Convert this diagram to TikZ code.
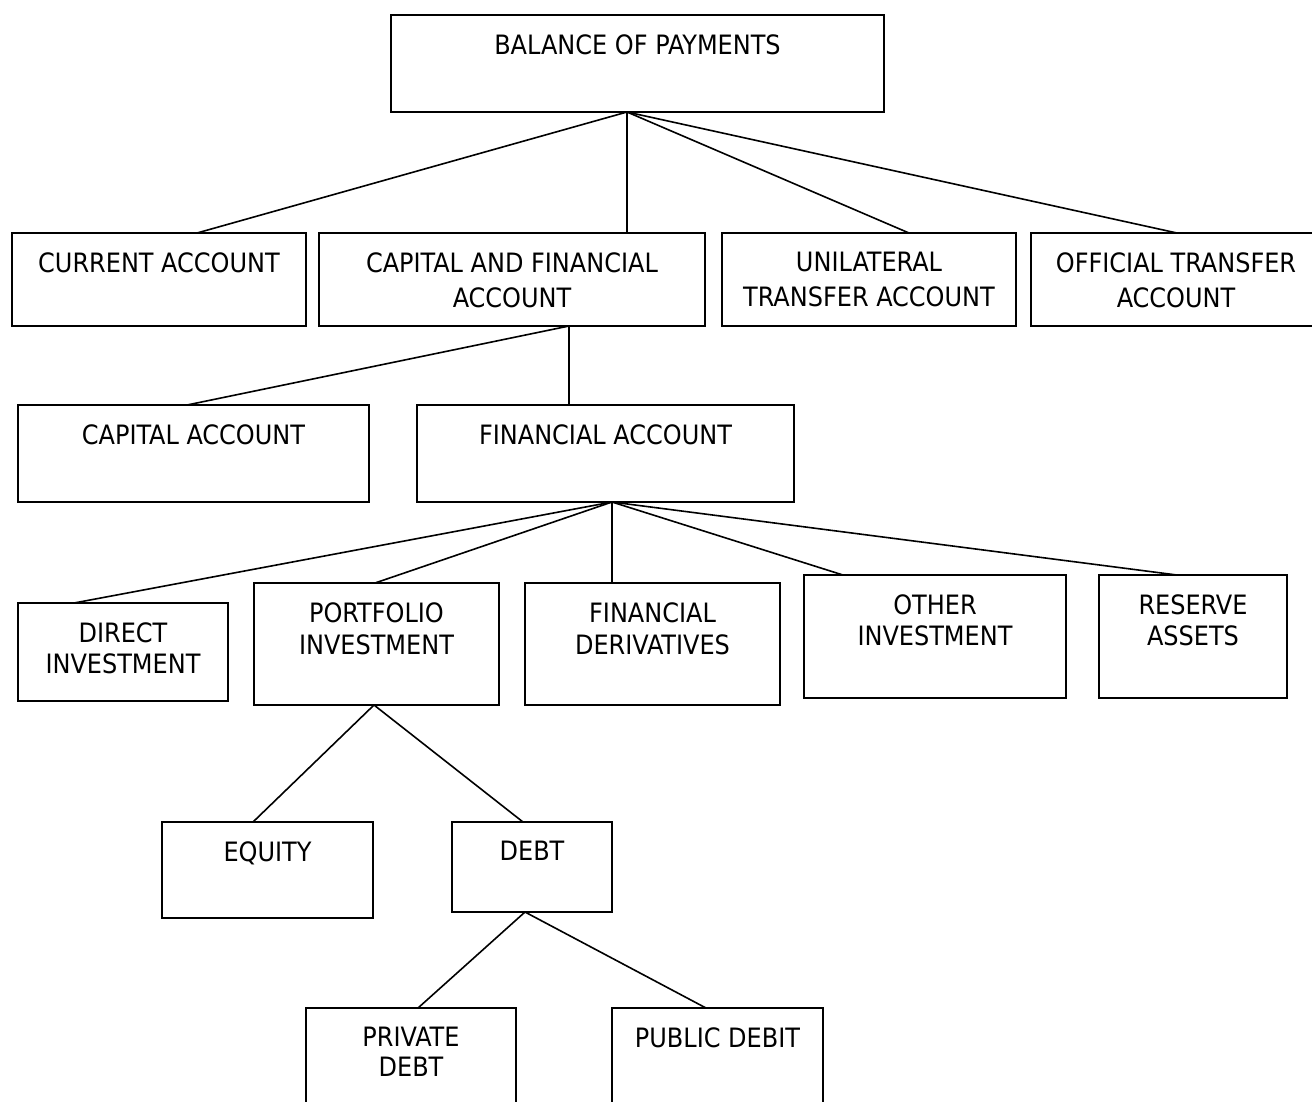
\documentclass[tikz,border=0pt]{standalone}
\usepackage{fontspec}
\setmainfont{DejaVu Sans Condensed}
\usetikzlibrary{calc}
% #1 name, #2 x1, #3 y1, #4 x2, #5 y2, #6 baselineskip (pt), #7 text
\newcommand\bopbox[7]{%
  \node[boxstyle, minimum width={(#4-#2)*0.75pt}, minimum height={(#5-#3)*0.75pt}] (#1) at (#2,#3) {};
  \node[lbl, font=\fontsize{20}{#6}\selectfont] (#1-t) at ($(#1.north west)!0.5!(#1.north east)+(0,19)$) {#7};
}
\begin{document}
\begin{tikzpicture}[x=0.75pt,y=-0.75pt,
  boxstyle/.style={draw=black, line width=1.6pt, inner sep=0pt, outer sep=0pt, anchor=north west},
  lbl/.style={anchor=north, inner sep=0pt, align=center, text=black},
  link/.style={draw=black, line width=1.2pt}]
\clip (0,0) rectangle (1312,1101);
\fill[white] (0,0) rectangle (1312,1101);

\bopbox{bop}{391}{15}{884}{112}{26.25}{BALANCE OF PAYMENTS}
\bopbox{cur}{12}{233}{306}{326}{26.25}{CURRENT ACCOUNT}
\bopbox{capfin}{319}{233}{705}{326}{26.25}{CAPITAL AND FINANCIAL\\ACCOUNT}
\bopbox{uni}{722}{233}{1016}{326}{26.25}{UNILATERAL\\TRANSFER ACCOUNT}
\bopbox{off}{1031}{233}{1321}{326}{26.25}{OFFICIAL TRANSFER\\ACCOUNT}
\bopbox{capacc}{18}{405}{369}{502}{24}{CAPITAL ACCOUNT}
\bopbox{finacc}{417}{405}{794}{502}{24}{FINANCIAL ACCOUNT}
\bopbox{direct}{18}{603}{228}{701}{23.5}{DIRECT\\INVESTMENT}
\bopbox{port}{254}{583}{499}{705}{24}{PORTFOLIO\\INVESTMENT}
\bopbox{finder}{525}{583}{780}{705}{24}{FINANCIAL\\DERIVATIVES}
\bopbox{other}{804}{575}{1066}{698}{23.5}{OTHER\\INVESTMENT}
\bopbox{reserve}{1099}{575}{1287}{698}{23.5}{RESERVE\\ASSETS}
\bopbox{equity}{162}{822}{373}{918}{24}{EQUITY}
\bopbox{debt}{452}{822}{612}{912}{24}{DEBT}
\bopbox{private}{306}{1008}{516}{1120}{22.5}{PRIVATE\\DEBT}
\bopbox{public}{612}{1008}{823}{1120}{22.5}{PUBLIC DEBIT}

% connectors
\draw[link] ($(bop.south west)+(236,0)$) -- ($(cur.north west)+(185,0)$);
\draw[link] ($(bop.south west)+(236,0)$) -- ($(capfin.north west)+(308,0)$);
\draw[link] ($(bop.south west)+(236,0)$) -- ($(uni.north west)+(187,0)$);
\draw[link] ($(bop.south west)+(236,0)$) -- ($(off.north west)+(146,0)$);

\draw[link] ($(capfin.south west)+(250,0)$) -- ($(capacc.north west)+(169,0)$);
\draw[link] ($(capfin.south west)+(250,0)$) -- ($(finacc.north west)+(152,0)$);

\draw[link] ($(finacc.south west)+(195,0)$) -- ($(direct.north west)+(56,0)$);
\draw[link] ($(finacc.south west)+(195,0)$) -- ($(port.north west)+(121,0)$);
\draw[link] ($(finacc.south west)+(195,0)$) -- ($(finder.north west)+(87,0)$);
\draw[link] ($(finacc.south west)+(195,0)$) -- ($(other.north west)+(39,0)$);
\draw[link] ($(finacc.south west)+(195,0)$) -- ($(reserve.north west)+(78,0)$);

\draw[link] ($(port.south west)+(120,0)$) -- ($(equity.north west)+(91,0)$);
\draw[link] ($(port.south west)+(120,0)$) -- ($(debt.north west)+(71,0)$);

\draw[link] ($(debt.south west)+(73,0)$) -- ($(private.north west)+(112,0)$);
\draw[link] ($(debt.south west)+(73,0)$) -- ($(public.north west)+(94,0)$);
\end{tikzpicture}
\end{document}
